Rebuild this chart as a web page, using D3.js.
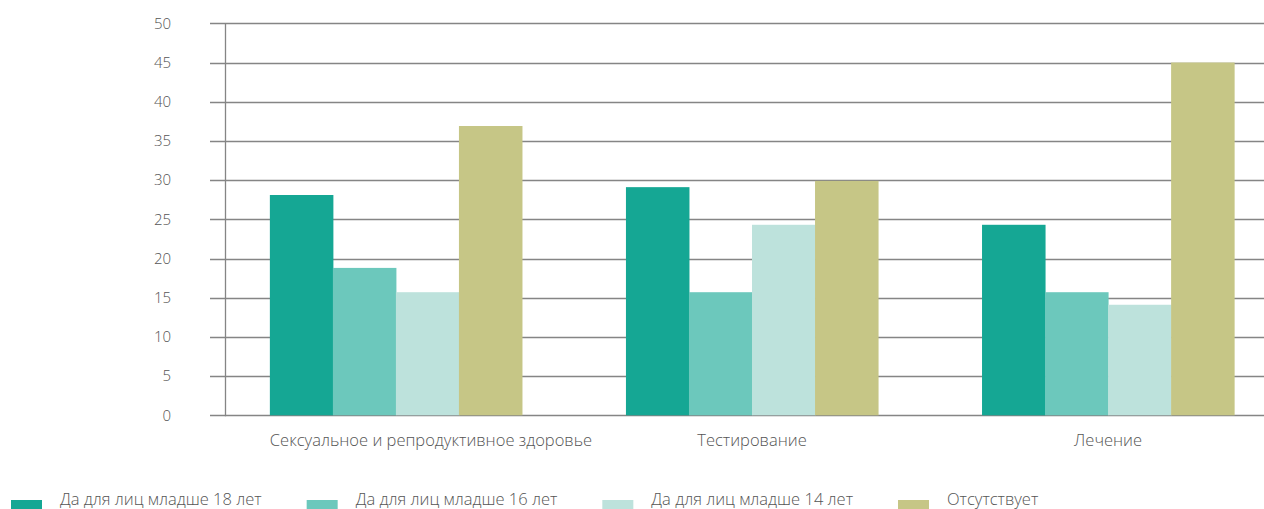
<!DOCTYPE html>
<html>
<head>
<meta charset="utf-8">
<script src="https://cdn.jsdelivr.net/npm/d3@7"></script>
<style>
  html, body { margin: 0; padding: 0; background: #fff; }
  svg { display: block; }
  text { font-family: "Open Sans", sans-serif; font-weight: 300; fill: #555555; }
</style>
</head>
<body>
<svg id="chart" width="1264" height="509"></svg>
<script>
// Categories (services) and legend series
const categories = ["Сексуальное и репродуктивное здоровье", "Тестирование", "Лечение"];
const seriesNames = ["Да для лиц младше 18 лет", "Да для лиц младше 16 лет", "Да для лиц младше 14 лет", "Отсутствует"];
const seriesColors = ["#15a794", "#6cc8bc", "#bde2dc", "#c6c686"];

// Values per series, one entry per category
const under18 = [28.1, 29.1, 24.3];
const under16 = [18.8, 15.7, 15.7];
const under14 = [15.7, 24.3, 14.1];
const absent  = [36.9, 29.9, 45.0];
const seriesValues = [under18, under16, under14, absent];

const yTicks = [0, 5, 10, 15, 20, 25, 30, 35, 40, 45, 50];

const svg = d3.select("#chart");
const W = 1264;

const x0 = d3.scaleBand()
  .domain(categories)
  .range([225, 1279])
  .paddingInner(0.292)
  .paddingOuter(0.126);

const x1 = d3.scaleBand()
  .domain(seriesNames)
  .range([0, x0.bandwidth()]);

const y = d3.scaleLinear()
  .domain([0, 50])
  .range([415.3, 23.3]);

// Horizontal gridlines with ticks extending left of the axis
const grid = svg.append("g").attr("class", "grid");
grid.selectAll("line")
  .data(yTicks)
  .join("line")
  .attr("x1", 210)
  .attr("x2", W)
  .attr("y1", d => Math.round(y(d)) + 0.5)
  .attr("y2", d => Math.round(y(d)) + 0.5)
  .attr("stroke", "#858585")
  .attr("stroke-width", 1.3);

// Y axis labels
const yAxis = d3.axisLeft(y).tickValues(yTicks).tickSize(0).tickPadding(0);
const gy = svg.append("g").attr("transform", "translate(171,0)").call(yAxis);
gy.select(".domain").remove();
gy.attr("font-family", null).attr("font-size", null);
gy.selectAll("text")
  .style("font-family", "'Open Sans', sans-serif")
  .style("font-size", "15px")
  .style("font-weight", 300)
  .style("fill", "#555555");

// Vertical axis line
svg.append("line")
  .attr("x1", 225.5).attr("x2", 225.5)
  .attr("y1", y(50)).attr("y2", y(0) + 1)
  .attr("stroke", "#858585")
  .attr("stroke-width", 1.3);

// Bars
const rows = categories.map((c, i) => ({
  cat: c,
  vals: seriesNames.map((s, j) => ({ s, v: seriesValues[j][i], color: seriesColors[j] }))
}));

svg.append("g").selectAll("g")
  .data(rows)
  .join("g")
  .attr("transform", d => `translate(${x0(d.cat)},0)`)
  .selectAll("rect")
  .data(d => d.vals)
  .join("rect")
  .attr("x", d => x1(d.s))
  .attr("width", x1.bandwidth() + 0.5)
  .attr("y", d => y(d.v))
  .attr("height", d => y(0) - y(d.v))
  .attr("fill", d => d.color);

// Category labels, centred under each group but not starting before the group
const labels = svg.append("g").selectAll("text")
  .data(categories)
  .join("text")
  .attr("y", 446)
  .attr("font-size", 16.5)
  .text(d => d);
labels.each(function(d) {
  const w = this.getComputedTextLength();
  const cx = x0(d) + x0.bandwidth() / 2;
  d3.select(this).attr("x", Math.max(cx - w / 2, x0(d)));
});

// Legend
const legendX = d3.scalePoint().domain(seriesNames).range([11, 898]);
const legend = svg.append("g").selectAll("g")
  .data(seriesNames)
  .join("g")
  .attr("transform", d => `translate(${legendX(d)},0)`);
legend.append("rect")
  .attr("x", 0).attr("y", 500)
  .attr("width", 31).attr("height", 9)
  .attr("fill", (d, i) => seriesColors[i]);
legend.append("text")
  .attr("x", 49).attr("y", 504.5)
  .attr("font-size", 16.5)
  .text(d => d);
</script>
</body>
</html>
